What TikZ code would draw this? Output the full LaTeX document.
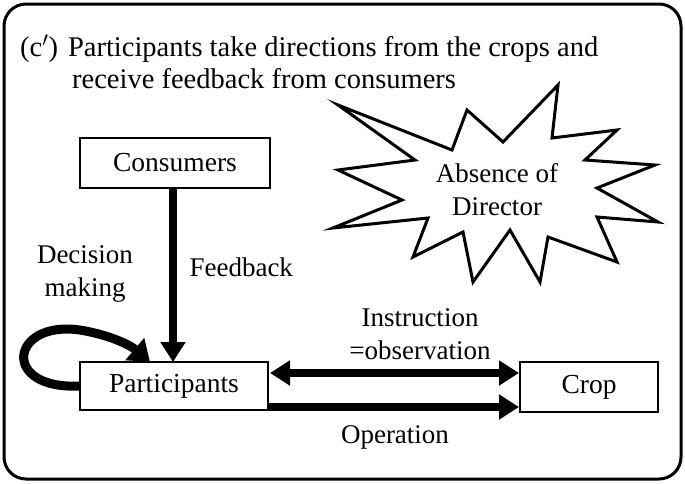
\documentclass[tikz,border=0pt]{standalone}
\usepackage{fontspec}
\setmainfont{Liberation Serif}
\usetikzlibrary{arrows.meta}
\begin{document}
\begin{tikzpicture}[x=1pt,y=-1pt,
  box/.style={draw,line width=1.5pt,minimum height=50pt,inner sep=0pt,font=\fontsize{27.5}{32}\selectfont},
  lbl/.style={font=\fontsize{27}{33}\selectfont,align=center},
  fat/.style={line width=8pt,-{Triangle[length=20pt,width=24pt]}},
  fatb/.style={line width=8pt,{Triangle[length=20pt,width=24pt]}-{Triangle[length=20pt,width=24pt]}}]
\useasboundingbox (0,0) rectangle (685,483);
\draw[line width=3pt,rounded corners=22pt] (4,4) rectangle (681,479);
\node[anchor=base west,font=\fontsize{28.5}{32}\selectfont,inner sep=0pt] (t1) at (20,56) {(c$'$)\hspace{10pt}Participants take directions from the crops and};
\node[anchor=base west,font=\fontsize{28.5}{32}\selectfont,inner sep=0pt] (t2) at (72,88) {receive feedback from consumers};
\node[box,minimum width=190pt] (cons) at (175,163) {Consumers};
\node[box,minimum width=188pt,minimum height=48pt] (part) at (174,386) {Participants};
\node[box,minimum width=138pt] (crop) at (589,387) {Crop};
\draw[fat] (cons.south -| 173,0) -- (173,362);
\node[lbl,anchor=west] (fb) at (186,267) {Feedback};
\draw[fatb] (270,373) -- (519,373);
\draw[fat] (268,407) -- (519,407);
\node[lbl] (ins) at (420,334) {Instruction\\=observation};
\node[lbl] (op) at (395,437) {Operation};
\node[lbl] (dm) at (85,274) {Decision\\making};
\draw[line width=9pt,-{Triangle[length=20pt,width=28pt]}] (80,386) .. controls (0,390) and (10,320) .. (80,330) .. controls (110,335) and (130,345) .. (150,362);
\draw[line width=3pt,line join=miter,fill=white] (338,105)--(452,150)--(467,110)--(503,142)--(558,85)--(552,138)--(617,130)--(585,160)--(655,165)--(597,188)--(658,222)--(597,217)--(617,262)--(548,237)--(540,282)--(510,230)--(473,282)--(463,232)--(413,257)--(428,218)--(333,228)--(402,200)--(338,170)--(415,160)--cycle;
\node[lbl] (abs) at (497,190) {Absence of\\Director};
\end{tikzpicture}
\end{document}
